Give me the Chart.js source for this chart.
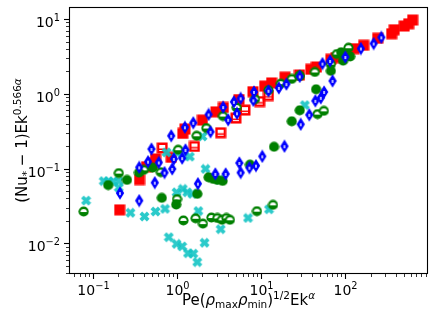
<!DOCTYPE html>
<html>
<head>
<meta charset="utf-8">
<script src="https://cdn.jsdelivr.net/npm/chart.js@4.4.0/dist/chart.umd.min.js"></script>
<style>
  html, body { margin: 0; padding: 0; background: #fff; }
  #wrap { width: 436px; height: 326px; }
</style>
</head>
<body>
<div id="wrap"><canvas id="myChart" width="436" height="326"></canvas></div>
<script>
// values (log-log axes)
const redFilledX = [0.208, 0.358, 0.434, 0.511, 0.555, 0.853, 1.17, 1.24, 2.0, 2.9, 3.55, 5.44, 7.98, 11.0, 13.3, 19.2, 28.5, 38.8, 45.4, 67.2, 77.1, 96.8, 127, 165, 242, 355, 381, 501, 565, 631];
const redFilledY = [0.0281, 0.0713, 0.106, 0.118, 0.135, 0.1415, 0.296, 0.338, 0.446, 0.575, 0.657, 0.839, 1.07, 1.27, 1.40, 1.67, 1.79, 2.13, 2.29, 2.90, 3.05, 3.38, 4.02, 4.46, 5.53, 6.37, 7.2, 8.07, 8.65, 9.7];

const redOpenX = [0.667, 1.61, 3.3, 5.01, 6.41, 9.6, 12.2];
const redOpenY = [0.189, 0.198, 0.302, 0.474, 0.606, 0.789, 0.949];

const blueX = [0.2096, 0.355, 0.544, 0.497, 0.452, 0.355, 0.607, 0.71, 0.877, 0.916, 1.15, 0.853, 1.26, 1.24, 1.56, 1.77, 2.37, 2.5, 3.53, 4.05, 4.74, 5.7, 5.15, 8.2, 8.07, 12.2, 16.2, 19.95, 28.7, 29.5, 37.3, 44, 51.1, 55.9, 70.4, 53.5, 65.9, 100, 153, 217, 268, 2.85, 3.78, 5.5, 5.7, 7.24, 8.67, 10.3, 18.9];
const blueY = [0.0471, 0.0374, 0.065, 0.183, 0.124, 0.104, 0.121, 0.0885, 0.0991, 0.135, 0.138, 0.275, 0.178, 0.357, 0.41, 0.063, 0.53, 0.311, 0.665, 0.45, 0.782, 0.871, 0.55, 1.06, 0.819, 1.1, 1.2, 1.35, 1.71, 0.392, 0.525, 0.807, 0.885, 1.06, 1.49, 2.54, 2.75, 3.11, 4.04, 4.71, 5.7, 0.085, 0.085, 0.119, 0.0885, 0.103, 0.1096, 0.146, 0.1995];

const greenFilledX = [0.152, 0.254, 0.353, 0.511, 0.658, 0.978, 1.74, 2.37, 2.68, 3.01, 3.48, 7.36, 14.2, 23.1, 28.7, 44.9, 67.2, 89.1, 94.1, 114, 28.7];
const greenFilledY = [0.0603, 0.0707, 0.0885, 0.103, 0.0407, 0.0331, 0.046, 0.0766, 0.0729, 0.0707, 0.0686, 0.113, 0.196, 0.43, 0.603, 1.15, 2.03, 3.6, 2.78, 3.16, 1.74];

const greenOpenX = [0.0777, 0.203, 0.403, 0.641, 1.0, 1.19, 1.66, 2.03, 2.56, 3.01, 3.41, 3.86, 4.25, 8.89, 13.8, 1.03, 1.71, 2.23, 3.51, 5.11, 8.43, 12.2, 17.1, 23.1, 28.5, 43.4, 67.2, 79.2, 109, 46.7, 55.5];
const greenOpenY = [0.0267, 0.0871, 0.0964, 0.0898, 0.0392, 0.0203, 0.0217, 0.0184, 0.0222, 0.0219, 0.0207, 0.0219, 0.0207, 0.027, 0.0328, 0.179, 0.275, 0.349, 0.505, 0.657, 0.85, 1.12, 1.37, 1.585, 1.74, 1.96, 2.49, 3.41, 4.14, 0.536, 0.593];

const cyanX = [0.083, 0.1345, 0.154, 0.174, 0.203, 0.203, 0.279, 0.41, 0.555, 0.72, 0.75, 0.986, 1.2, 1.42, 2.01, 0.986, 1.17, 1.32, 1.52, 1.79, 2.18, 3.18, 3.3, 6.97, 12.4, 33, 0.798, 0.986, 1.15, 1.35, 1.56, 1.74, 2.12];
const cyanY = [0.0374, 0.0681, 0.0677, 0.0671, 0.0681, 0.0558, 0.0257, 0.0229, 0.0267, 0.029, 0.165, 0.163, 0.149, 0.1445, 0.27, 0.0483, 0.0536, 0.0483, 0.046, 0.0271, 0.0991, 0.0707, 0.0155, 0.0219, 0.0286, 0.707, 0.0121, 0.00985, 0.00912, 0.0074, 0.0073, 0.00563, 0.0102];

const xMin = 0.052, xMax = 960;
const yMin = 0.0039, yMax = 14.5;

// marker images
function mk(w, h, draw) {
    const c = document.createElement('canvas');
    c.width = w; c.height = h;
    draw(c.getContext('2d'), w, h);
    return c;
}
const mRedFilled = mk(12, 12, g => {
    g.fillStyle = '#ff0000';
    g.fillRect(0.5, 0.5, 11, 11);
});
const mRedOpen = mk(12, 12, g => {
    g.fillStyle = '#ff0000';
    g.fillRect(0.5, 0.5, 11, 11);
    g.fillStyle = '#ffffff';
    g.fillRect(3, 3, 6, 3.5);
    g.fillRect(3, 8, 6, 1);
});
const mBlue = mk(10, 14, g => {
    g.fillStyle = '#0000ff';
    g.beginPath();
    g.moveTo(5, 0.3); g.lineTo(9.2, 7); g.lineTo(5, 13.7); g.lineTo(0.8, 7);
    g.closePath();
    g.fill();
    g.fillStyle = '#ffffff';
    g.fillRect(4.3, 6, 1.4, 3);
});
const mGreenFilled = mk(11, 11, g => {
    g.fillStyle = '#008000';
    g.beginPath();
    g.arc(5.5, 5.5, 5.1, 0, Math.PI * 2);
    g.fill();
});
const mGreenOpen = mk(11, 11, g => {
    g.fillStyle = '#008000';
    g.beginPath();
    g.arc(5.5, 5.5, 5.1, 0, Math.PI * 2);
    g.fill();
    g.fillStyle = '#ffffff';
    g.beginPath();
    g.ellipse(5.5, 6, 3.2, 2.9, 0, Math.PI, Math.PI * 2);
    g.fill();
});
const mCyan = mk(11, 11, g => {
    g.strokeStyle = 'rgba(20,196,196,0.9)';
    g.lineWidth = 3.8;
    g.beginPath();
    g.moveTo(1.8, 1.8); g.lineTo(9.2, 9.2);
    g.moveTo(9.2, 1.8); g.lineTo(1.8, 9.2);
    g.stroke();
});

function pts(xs, ys) {
    return xs.map((x, i) => ({x: x, y: ys[i]}));
}
function ds(xs, ys, marker) {
    return {
        data: pts(xs, ys),
        pointStyle: marker,
        pointRadius: 5,
        pointHoverRadius: 5,
        showLine: false
    };
}

// rich text: segments of [text, kind, italic] ; kind '' | 'sup' | 'sub'
function richWidth(ctx, segs, size) {
    let w = 0;
    segs.forEach(s => {
        const sz = s[1] ? size * 0.7 : size;
        ctx.font = (s[2] ? 'italic ' : '') + sz + 'px "DejaVu Sans"';
        w += ctx.measureText(s[0]).width;
    });
    return w;
}
function drawRich(ctx, segs, x, y, size) {
    let cx = x;
    segs.forEach(s => {
        const sz = s[1] ? size * 0.7 : size;
        ctx.font = (s[2] ? 'italic ' : '') + sz + 'px "DejaVu Sans"';
        let dy = 0;
        if (s[1] === 'sup') dy = -size * 0.42;
        if (s[1] === 'sub') dy = size * 0.2;
        ctx.fillText(s[0], cx, y + dy);
        cx += ctx.measureText(s[0]).width;
    });
}
function powLabel(e) {
    return [['10', ''], [e < 0 ? '\u2212' + (-e) : String(e), 'sup']];
}

const axesPlugin = {
    id: 'mplAxes',
    afterDraw(chart) {
        const ctx = chart.ctx;
        const a = chart.chartArea;
        const sx = chart.scales.x, sy = chart.scales.y;
        ctx.save();
        ctx.strokeStyle = '#000';
        ctx.fillStyle = '#000';
        ctx.textBaseline = 'alphabetic';
        ctx.textAlign = 'left';
        // ticks
        for (let d = -3; d <= 3; d++) {
            for (let m = 1; m <= 9; m++) {
                const v = m * Math.pow(10, d);
                const major = m === 1;
                ctx.lineWidth = major ? 1.1 : 0.8;
                const len = major ? 5 : 3;
                if (v >= xMin && v <= xMax) {
                    const px = Math.round(sx.getPixelForValue(v)) + 0.5;
                    ctx.beginPath();
                    ctx.moveTo(px, a.bottom); ctx.lineTo(px, a.bottom + len);
                    ctx.stroke();
                    if (major) {
                        const segs = powLabel(d);
                        const w = richWidth(ctx, segs, 14);
                        drawRich(ctx, segs, px - w / 2, a.bottom + 21, 14);
                    }
                }
                if (v >= yMin && v <= yMax) {
                    const py = Math.round(sy.getPixelForValue(v)) + 0.5;
                    ctx.beginPath();
                    ctx.moveTo(a.left, py); ctx.lineTo(a.left - len, py);
                    ctx.stroke();
                    if (major) {
                        const segs = powLabel(d);
                        const w = richWidth(ctx, segs, 14);
                        drawRich(ctx, segs, a.left - 9 - w, py + 7, 14);
                    }
                }
            }
        }
        // frame
        ctx.lineWidth = 1.1;
        ctx.strokeRect(a.left + 0.5, a.top + 0.5, a.right - a.left - 1, a.bottom - a.top - 1);
        // x title
        const xt = [['Pe(', ''], ['\u03c1', '', true], ['max', 'sub'], ['\u03c1', '', true], ['min', 'sub'],
                    [')', ''], ['1/2', 'sup'], ['Ek', ''], ['\u03b1', 'sup', true]];
        const xw = richWidth(ctx, xt, 15);
        drawRich(ctx, xt, (a.left + a.right) / 2 - xw / 2, 305, 15);
        // y title
        const yt = [['(Nu', ''], ['*', 'sub'], [' \u2212 1)Ek', ''], ['0.566', 'sup'], ['\u03b1', 'sup', true]];
        const yw = richWidth(ctx, yt, 15);
        ctx.translate(27, (a.top + a.bottom) / 2);
        ctx.rotate(-Math.PI / 2);
        drawRich(ctx, yt, -yw / 2, 0, 15);
        ctx.restore();
    }
};

const zeroFit = s => { if (s.isHorizontal()) s.height = 0; else s.width = 0; };

const config = {
    type: 'scatter',
    data: {
        datasets: [
            ds(blueX, blueY, mBlue),
            ds(greenFilledX, greenFilledY, mGreenFilled),
            ds(greenOpenX, greenOpenY, mGreenOpen),
            ds(cyanX, cyanY, mCyan),
            ds(redOpenX, redOpenY, mRedOpen),
            ds(redFilledX, redFilledY, mRedFilled)
        ]
    },
    options: {
        responsive: false,
        animation: false,
        events: [],
        layout: { padding: { left: 69, right: 8, top: 7, bottom: 52 } },
        plugins: { legend: { display: false }, tooltip: { enabled: false } },
        scales: {
            x: {
                type: 'logarithmic', min: xMin, max: xMax,
                grid: { display: false }, border: { display: false },
                ticks: { display: false }, afterFit: zeroFit
            },
            y: {
                type: 'logarithmic', min: yMin, max: yMax,
                grid: { display: false }, border: { display: false },
                ticks: { display: false }, afterFit: zeroFit
            }
        }
    },
    plugins: [axesPlugin]
};

const myChart = new Chart(document.getElementById('myChart').getContext('2d'), config);
</script>
</body>
</html>
